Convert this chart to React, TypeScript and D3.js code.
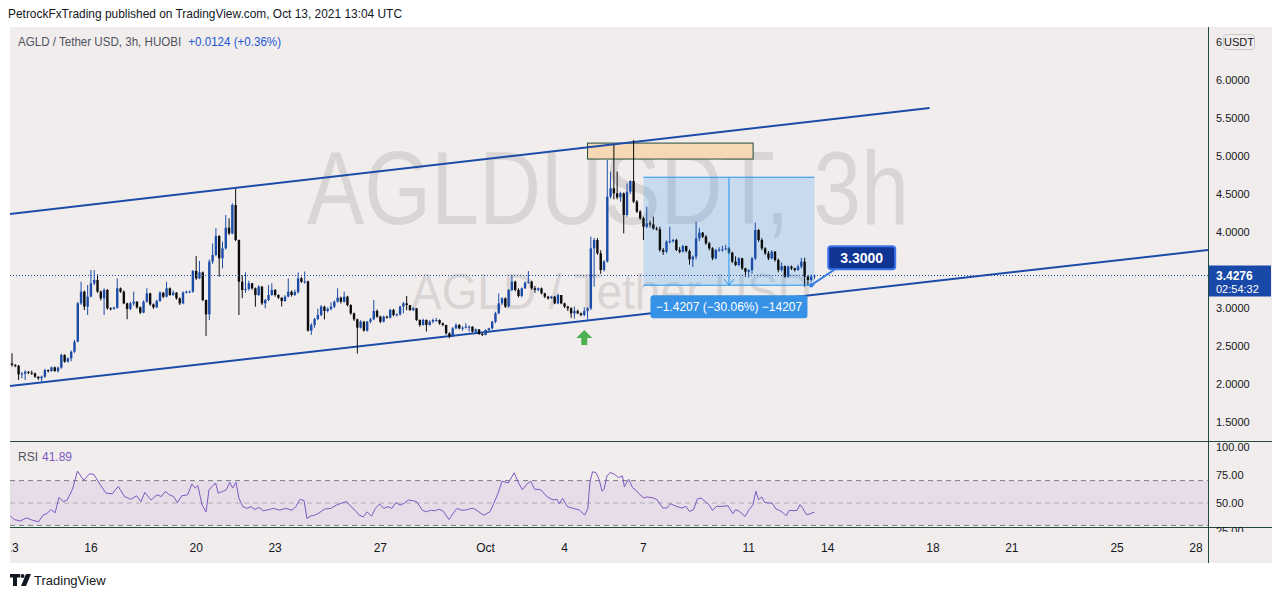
import * as d3 from 'd3';

// ---- data ----
const firstOpen = 2.27;
// [close, high, low] per 3h bar, starting Sep 13 2021 00:00 UTC
const bars = [
  [2.25, 2.404, 2.228], [2.24, 2.262, 2.22], [2.127, 2.25, 2.053], [2.136, 2.16, 2.075], [2.162, 2.18, 2.053],
  [2.149, 2.17, 2.13], [2.14, 2.175, 2.12], [2.096, 2.15, 2.08], [2.075, 2.1, 2.053], [2.096, 2.11, 2.031],
  [2.184, 2.2, 2.08], [2.171, 2.19, 2.15], [2.219, 2.23, 2.16], [2.171, 2.23, 2.16], [2.215, 2.23, 2.15],
  [2.382, 2.4, 2.2], [2.294, 2.39, 2.28], [2.338, 2.35, 2.28], [2.425, 2.44, 2.3], [2.557, 2.58, 2.41],
  [3.061, 3.08, 2.55], [3.215, 3.346, 3.04], [3.018, 3.23, 2.974], [3.149, 3.303, 2.908], [3.325, 3.5, 3.14],
  [3.368, 3.5, 3.3], [3.215, 3.443, 3.2], [3.127, 3.23, 3.1], [3.237, 3.26, 2.908], [2.996, 3.25, 2.98],
  [2.987, 3.01, 2.97], [3.004, 3.02, 2.98], [3.259, 3.39, 2.99], [3.215, 3.27, 3.2], [3.061, 3.23, 3.05],
  [2.987, 3.07, 2.851], [3.061, 3.08, 2.97], [3.083, 3.215, 3.03], [3.009, 3.09, 2.99], [2.939, 3.02, 2.92],
  [3.083, 3.1, 2.93], [3.193, 3.26, 3.07], [3.048, 3.2, 3.03], [3.009, 3.06, 2.99], [3.092, 3.11, 3.0],
  [3.202, 3.22, 3.08], [3.149, 3.21, 3.13], [3.259, 3.346, 3.14], [3.171, 3.27, 3.16], [3.202, 3.23, 3.16],
  [3.127, 3.21, 3.11], [3.061, 3.14, 3.04], [3.202, 3.22, 3.05], [3.215, 3.23, 3.19], [3.215, 3.23, 3.2],
  [3.487, 3.5, 3.2], [3.39, 3.684, 3.37], [3.469, 3.62, 3.38], [3.105, 3.48, 3.09], [2.917, 3.11, 2.632],
  [3.61, 3.64, 2.842], [3.697, 3.85, 3.58], [3.947, 4.05, 3.68], [3.654, 3.96, 3.412], [3.785, 3.873, 3.522],
  [4.057, 4.224, 3.77], [3.982, 4.18, 3.96], [4.355, 4.377, 3.97], [3.895, 4.566, 3.88], [3.346, 3.9, 2.908],
  [3.237, 3.43, 3.13], [3.25, 3.469, 3.2], [3.325, 3.36, 3.23], [3.259, 3.33, 3.24], [3.171, 3.27, 3.018],
  [3.281, 3.3, 3.16], [3.061, 3.29, 3.04], [3.105, 3.12, 2.996], [3.171, 3.3, 3.09], [3.237, 3.325, 3.16],
  [3.171, 3.25, 3.15], [3.136, 3.18, 3.12], [3.092, 3.14, 3.02], [3.149, 3.17, 3.08], [3.215, 3.39, 3.14],
  [3.171, 3.23, 3.15], [3.209, 3.24, 3.16], [3.39, 3.469, 3.19], [3.346, 3.41, 3.33], [3.35, 3.48, 3.32],
  [2.702, 3.36, 2.69], [2.776, 2.8, 2.645], [2.855, 2.87, 2.74], [2.908, 2.99, 2.84], [3.018, 3.04, 2.89],
  [2.961, 3.03, 2.85], [2.987, 3.01, 2.94], [3.018, 3.075, 2.97], [3.083, 3.1, 3.0], [3.136, 3.259, 3.07],
  [3.083, 3.15, 3.06], [3.149, 3.215, 3.07], [3.039, 3.16, 3.02], [2.93, 3.05, 2.91], [2.851, 2.94, 2.83],
  [2.741, 2.86, 2.4], [2.82, 2.84, 2.73], [2.702, 2.83, 2.69], [2.82, 2.83, 2.69], [2.851, 2.87, 2.8],
  [2.961, 3.105, 2.84], [2.886, 2.98, 2.87], [2.82, 2.9, 2.8], [2.886, 2.9, 2.81], [2.874, 2.9, 2.86],
  [2.974, 2.99, 2.86], [2.908, 2.99, 2.89], [2.917, 2.93, 2.89], [3.018, 3.03, 2.9], [3.061, 3.08, 2.93],
  [3.039, 3.158, 2.97], [2.974, 3.04, 2.96], [2.996, 3.01, 2.96], [2.842, 3.0, 2.83], [2.776, 2.85, 2.754],
  [2.842, 2.86, 2.77], [2.776, 2.85, 2.689], [2.82, 2.84, 2.77], [2.842, 2.86, 2.8], [2.842, 2.87, 2.82],
  [2.798, 2.85, 2.78], [2.776, 2.81, 2.76], [2.667, 2.78, 2.65], [2.623, 2.68, 2.601], [2.732, 2.75, 2.62],
  [2.776, 2.8, 2.72], [2.732, 2.79, 2.72], [2.741, 2.76, 2.7], [2.754, 2.8, 2.73], [2.754, 2.77, 2.69],
  [2.689, 2.76, 2.68], [2.719, 2.73, 2.68], [2.658, 2.72, 2.645], [2.645, 2.67, 2.63], [2.711, 2.72, 2.64],
  [2.732, 2.74, 2.7], [2.82, 2.83, 2.72], [2.93, 2.95, 2.8], [3.061, 3.193, 2.92], [3.127, 3.14, 3.04],
  [3.018, 3.14, 3.0], [3.237, 3.25, 3.01], [3.346, 3.434, 3.22], [3.237, 3.36, 3.22], [3.158, 3.26, 3.14],
  [3.259, 3.27, 3.14], [3.333, 3.35, 3.25], [3.346, 3.487, 3.32], [3.259, 3.36, 3.24], [3.237, 3.29, 3.2],
  [3.259, 3.27, 3.22], [3.193, 3.27, 3.18], [3.149, 3.2, 3.13], [3.127, 3.16, 3.11], [3.149, 3.16, 3.12],
  [3.061, 3.16, 3.05], [3.171, 3.19, 3.05], [3.061, 3.16, 3.05], [3.018, 3.07, 3.0], [2.996, 3.03, 2.96],
  [2.93, 3.01, 2.87], [2.96, 3.02, 2.86], [2.93, 2.98, 2.92], [2.908, 2.94, 2.89], [2.96, 3.01, 2.89],
  [2.996, 3.01, 2.85], [3.785, 3.94, 2.974], [3.895, 3.92, 3.281], [3.719, 3.92, 3.7], [3.5, 3.76, 3.45],
  [3.61, 3.63, 3.48], [4.465, 4.947, 3.6], [4.575, 4.794, 4.44], [4.509, 5.145, 4.43], [4.456, 4.794, 4.43],
  [4.509, 4.53, 4.4], [4.224, 4.52, 3.982], [4.531, 4.64, 4.2], [4.671, 4.68, 4.5], [4.399, 5.211, 4.38],
  [4.268, 4.42, 4.25], [4.18, 4.29, 4.16], [4.07, 4.2, 3.895], [4.114, 4.333, 4.05], [4.1, 4.15, 4.06],
  [4.048, 4.202, 4.03], [4.035, 4.07, 4.02], [3.763, 4.07, 3.74], [3.741, 3.79, 3.7], [3.873, 3.89, 3.72],
  [3.88, 4.07, 3.85], [3.895, 3.91, 3.86], [3.763, 3.91, 3.75], [3.741, 3.8, 3.72], [3.816, 3.83, 3.73],
  [3.75, 3.82, 3.73], [3.64, 3.77, 3.57], [3.675, 3.69, 3.54], [3.917, 4.136, 3.64], [3.991, 4.05, 3.88],
  [3.939, 4.0, 3.92], [3.851, 3.96, 3.83], [3.785, 3.87, 3.76], [3.654, 3.8, 3.63], [3.763, 3.78, 3.64],
  [3.77, 3.8, 3.74], [3.772, 3.82, 3.74], [3.785, 3.83, 3.76], [3.728, 3.8, 3.71], [3.61, 3.74, 3.59],
  [3.566, 3.68, 3.55], [3.654, 3.67, 3.55], [3.522, 3.66, 3.5], [3.478, 3.53, 3.41], [3.5, 3.51, 3.4],
  [3.654, 3.67, 3.45], [4.026, 4.123, 3.63], [3.895, 4.04, 3.87], [3.785, 3.92, 3.76], [3.719, 3.8, 3.7],
  [3.654, 3.75, 3.63], [3.741, 3.76, 3.64], [3.632, 3.75, 3.61], [3.5, 3.65, 3.47], [3.55, 3.6, 3.48],
  [3.412, 3.56, 3.4], [3.544, 3.56, 3.4], [3.522, 3.56, 3.5], [3.5, 3.53, 3.48], [3.544, 3.57, 3.49],
  [3.61, 3.66, 3.52], [3.412, 3.66, 3.281], [3.368, 3.43, 3.3], [3.415, 3.44, 3.34], [3.4276, 3.44, 3.38],
];

// [bar index, RSI value]
const rsiPoints = [
  [-0.5, 38.5], [0.7, 35.2], [2.5, 33.9], [4.4, 36.7], [6.3, 34.5], [8.1, 33.3], [9.4, 39.1], [10.6, 40.6],
  [11.9, 44.2], [13.1, 41.2], [14.3, 55.1], [15.6, 51.2], [16.8, 52.7], [18.4, 62.4], [19.9, 78.5], [21.8, 70.3],
  [23.6, 76.1], [24.9, 75.5], [26.8, 66.4], [28.6, 58.8], [30.5, 58.2], [32.3, 64.8], [34.2, 55.8], [36.1, 53.3],
  [37.9, 56.4], [39.2, 51.2], [40.4, 59.4], [42.3, 52.7], [44.1, 57.3], [45.4, 55.8], [46.6, 60.3], [47.9, 57.3],
  [49.1, 55.8], [50.3, 50.3], [51.6, 56.4], [53.4, 57.3], [54.7, 67.0], [55.7, 63.3], [56.5, 65.5], [57.8, 48.2],
  [59.0, 42.1], [59.9, 61.8], [60.9, 64.8], [61.9, 67.9], [62.7, 58.8], [64.0, 60.3], [65.2, 61.8], [66.2, 68.5],
  [67.1, 63.3], [68.1, 68.5], [69.0, 54.2], [70.2, 46.7], [71.4, 45.2], [72.7, 46.7], [73.9, 44.2], [75.1, 46.1],
  [76.4, 43.1], [78.3, 44.2], [79.5, 45.2], [81.4, 43.6], [83.2, 45.2], [85.1, 43.6], [86.3, 46.7], [87.6, 53.3],
  [88.8, 52.1], [89.7, 36.1], [90.7, 38.2], [91.9, 39.1], [93.1, 40.6], [95.0, 44.5], [96.9, 45.2], [98.7, 48.2],
  [100.6, 50.3], [101.8, 51.2], [103.1, 46.7], [104.3, 43.6], [105.6, 39.1], [106.8, 37.6], [108.0, 42.1], [109.3, 38.2],
  [110.5, 45.2], [111.8, 49.1], [113.0, 45.2], [114.3, 46.7], [115.5, 45.2], [116.7, 50.3], [118.0, 48.2], [119.2, 49.7],
  [120.5, 52.7], [121.7, 52.1], [123.0, 51.2], [124.8, 43.6], [126.0, 42.1], [127.3, 43.6], [128.5, 43.0], [129.8, 44.5],
  [131.0, 43.0], [132.9, 35.2], [134.1, 40.6], [135.3, 45.2], [136.6, 43.6], [137.8, 43.6], [139.1, 44.8], [140.3, 45.2],
  [141.5, 43.0], [143.4, 39.1], [145.3, 42.1], [146.5, 49.7], [147.8, 58.8], [149.0, 69.4], [150.9, 67.9], [152.7, 77.0],
  [154.0, 67.9], [155.2, 61.8], [156.4, 66.4], [157.7, 69.4], [158.9, 62.4], [160.8, 61.8], [162.6, 55.8], [164.5, 52.7],
  [165.7, 53.3], [166.4, 49.1], [167.4, 54.2], [168.9, 46.7], [170.7, 45.2], [172.6, 43.6], [174.1, 39.1], [175.1, 45.2],
  [175.7, 68.1], [176.5, 77.8], [177.5, 77.3], [178.5, 71.2], [179.4, 60.6], [180.0, 62.1], [180.9, 74.2], [181.9, 77.3],
  [183.1, 75.8], [184.4, 72.7], [185.6, 74.2], [186.2, 64.5], [187.5, 71.2], [188.7, 63.6], [190.0, 60.6], [190.9, 57.5],
  [192.1, 54.5], [193.2, 55.4], [195.0, 54.5], [196.1, 53.0], [197.9, 45.5], [199.1, 45.5], [200.2, 49.4], [202.0, 47.0],
  [203.7, 45.5], [204.9, 47.0], [206.0, 42.5], [207.2, 44.0], [208.4, 53.6], [209.5, 54.5], [210.7, 51.5], [211.9, 48.5],
  [213.0, 43.4], [214.2, 47.0], [216.0, 47.0], [217.7, 47.6], [219.2, 40.4], [220.0, 44.0], [221.2, 42.5], [222.9, 38.0],
  [224.1, 44.0], [225.3, 48.5], [226.2, 60.5], [227.0, 53.0], [228.0, 55.4], [228.8, 50.6], [229.9, 50.0], [231.1, 50.0],
  [232.3, 44.6], [233.4, 43.4], [234.6, 41.0], [235.4, 38.6], [236.3, 43.4], [237.5, 43.1], [238.7, 43.4], [239.6, 48.5],
  [240.4, 45.5], [241.6, 39.5], [242.7, 40.4], [244.0, 41.89],
];

const priceTicks = [1.5, 2, 2.5, 3, 3.5, 4, 4.5, 5, 5.5, 6];
const rsiTicks = [100, 75, 50, 25];
const timeTicks = ['2021-09-13', '2021-09-16', '2021-09-20', '2021-09-23', '2021-09-27', '2021-10-01',
  '2021-10-04', '2021-10-07', '2021-10-11', '2021-10-14', '2021-10-18', '2021-10-21', '2021-10-25', '2021-10-28'];

// drawings: [iso time, price]
const upperChannel = [['2021-09-12T22:00Z', 4.237], ['2021-10-17T21:00Z', 5.632]];
const lowerChannel = [['2021-09-12T22:00Z', 1.974], ['2021-10-13T12:00Z', 3.175]];
const supplyZone = { from: '2021-10-04T21:00Z', to: '2021-10-11T04:00Z', top: 5.17, bottom: 4.96 };
const measure = { from: '2021-10-07T00:00Z', to: '2021-10-13T12:00Z', start: 4.7207, end: 3.3 };
const callout = { t: '2021-10-13T09:00Z', price: 3.3, text: '3.3000' };
const upArrow = { t: '2021-10-04T18:00Z', price: 2.71 };
const lastPrice = 3.4276;

// ---- layout ----
const FONT = 'Liberation Sans, Arial, Helvetica, sans-serif';
const L = 10, R = 1208, TOP = 27, PB = 441, RB = 527, AB = 563, RIGHT_EDGE = 1272;
const BG = '#f2eded';
const BLUE = '#1a4ca8';
const SEP = '#1f4a3c';

const start = Date.UTC(2021, 8, 13);
const barTime = (i: number) => new Date(start + i * 3 * 3600e3);

const x = d3.scaleUtc()
  .domain([new Date('2021-09-13T00:00Z'), new Date('2021-10-28T00:00Z')])
  .range([12, 1196]);
const y = d3.scaleLinear().domain([3, 6]).range([308, 80]);
const yRsi = d3.scaleLinear().domain([50, 100]).range([503, 447]);

const candles = bars.map(([c, h, l], i) => {
  const o = i ? bars[i - 1][0] : firstOpen;
  return { t: barTime(i), o, c, h: Math.max(h, o, c), l: Math.min(l, o, c) };
});

const pt = (p: any[]) => [x(new Date(p[0])), y(p[1])];

export default function App() {
  const [u1, u2] = upperChannel.map(pt);
  const [l1, l2] = lowerChannel.map(pt);
  const lowSlope = (l2[1] - l1[1]) / (l2[0] - l1[0]);
  const lowEnd = [R + 5, l1[1] + lowSlope * (R + 5 - l1[0])];

  const rsiLine = d3.line<number[]>()
    .x((d) => x(barTime(d[0])))
    .y((d) => yRsi(d[1]))(rsiPoints);

  const mx1 = x(new Date(measure.from)), mx2 = x(new Date(measure.to));
  const my1 = y(measure.start), my2 = y(measure.end);
  const mMid = (mx1 + mx2) / 2;

  const cx = x(new Date(callout.t)), cy = y(callout.price);
  const ax = x(new Date(upArrow.t)), ay = y(upArrow.price);
  const lastY = y(lastPrice);
  const dayFmt = d3.utcFormat('%-d');

  return (
    <svg width={1280} height={598} style={{ position: 'fixed', left: 0, top: 0, background: '#fff' }}
      fontFamily={FONT}>
      <defs>
        <clipPath id="pricePane"><rect x={L} y={TOP} width={R - L} height={PB - TOP} /></clipPath>
        <clipPath id="rsiPane"><rect x={L} y={PB + 1} width={R - L} height={RB - PB - 1} /></clipPath>
        <clipPath id="rsiAxis"><rect x={R} y={PB + 1} width={RIGHT_EDGE - R} height={RB - PB + 4} /></clipPath>
        <clipPath id="timeAxis"><rect x={L + 1} y={RB} width={R - L - 1} height={AB - RB} /></clipPath>
      </defs>

      <text x={8} y={18} fontSize={13} fill="#131722" textLength={394} lengthAdjust="spacingAndGlyphs">
        PetrockFxTrading published on TradingView.com, Oct 13, 2021 13:04 UTC
      </text>

      <rect x={L} y={TOP} width={RIGHT_EDGE - L} height={AB - TOP} fill={BG} />

      {/* price pane */}
      <g clipPath="url(#pricePane)">
        <text x={608} y={224} fontSize={104} textAnchor="middle" textLength={602} lengthAdjust="spacingAndGlyphs"
          fill="#dad5d5">AGLDUSDT, 3h</text>
        <text x={611} y={309} fontSize={50} textAnchor="middle" textLength={400} lengthAdjust="spacingAndGlyphs"
          fill="#dad5d5">AGLD / Tether USD</text>

        <rect x={x(new Date(supplyZone.from))} y={y(supplyZone.top)}
          width={x(new Date(supplyZone.to)) - x(new Date(supplyZone.from))}
          height={y(supplyZone.bottom) - y(supplyZone.top)} fill="#f6d8b5" stroke={SEP} strokeWidth={1} />

        <rect x={mx1} y={my1} width={mx2 - mx1} height={my2 - my1} fill="rgba(33,150,243,0.2)" />

        <line x1={u1[0]} y1={u1[1]} x2={u2[0]} y2={u2[1]} stroke={BLUE} strokeWidth={2} />
        <line x1={l1[0]} y1={l1[1]} x2={lowEnd[0]} y2={lowEnd[1]} stroke={BLUE} strokeWidth={2} />

        {candles.map((d, i) => {
          const px = x(d.t);
          const col = d.c >= d.o ? BLUE : '#0c0c0c';
          const yt = y(Math.max(d.o, d.c)), yb = y(Math.min(d.o, d.c));
          return (
            <g key={i}>
              <line x1={px} x2={px} y1={y(d.h)} y2={y(d.l)} stroke={col} strokeWidth={1} />
              <rect x={px - 1.2} y={yt} width={2.4} height={Math.max(1, yb - yt)} fill={col} />
            </g>
          );
        })}

        <line x1={L} x2={R} y1={lastY} y2={lastY} stroke={BLUE} strokeWidth={1} strokeDasharray="1,2" />

        {/* price range tool */}
        <line x1={mx1} x2={mx2} y1={my1} y2={my1} stroke="#2196f3" strokeWidth={1} />
        <line x1={mx1} x2={mx2} y1={my2} y2={my2} stroke="#2196f3" strokeWidth={1} />
        <line x1={mMid} x2={mMid} y1={my1} y2={my2} stroke="#2196f3" strokeWidth={1} />
        <path d={`M${mMid - 5},${my2 - 6} L${mMid},${my2} L${mMid + 5},${my2 - 6}`} fill="none" stroke="#2196f3" strokeWidth={1} />
        <rect x={mMid - 78.5} y={my2 + 10} width={157} height={23} rx={3} fill="#3592e6" />
        <text x={mMid} y={my2 + 26} fontSize={12} fill="#fff" textAnchor="middle">−1.4207 (−30.06%) −14207</text>

        {/* callout */}
        <line x1={cx} y1={cy} x2={cx + 27} y2={cy - 18} stroke="#3d7fe0" strokeWidth={2} />
        <circle cx={cx} cy={cy} r={2.2} fill="#3d7fe0" />
        <rect x={cx + 17} y={cy - 39} width={67} height={23} rx={3} fill="#0f3494" stroke="#3f74ea" strokeWidth={2} />
        <text x={cx + 50.5} y={cy - 22.5} fontSize={14} fontWeight="bold" fill="#fff" textAnchor="middle">{callout.text}</text>

        {/* up arrow */}
        <path d={`M${ax},${ay} L${ax + 8},${ay + 8} L${ax + 3},${ay + 8} L${ax + 3},${ay + 15} L${ax - 3},${ay + 15} L${ax - 3},${ay + 8} L${ax - 8},${ay + 8} Z`}
          fill="#4caf50" />
      </g>

      <text x={18} y={46} fontSize={13} fill="#50535e" textLength={263} lengthAdjust="spacingAndGlyphs">
        AGLD / Tether USD, 3h, HUOBI<tspan dx={8} fill="#2157d1">+0.0124 (+0.36%)</tspan>
      </text>

      {/* RSI pane */}
      <g clipPath="url(#rsiPane)">
        <rect x={L} y={yRsi(70)} width={R - L} height={yRsi(30) - yRsi(70)} fill="rgba(126,87,194,0.1)" />
        <line x1={L} x2={R} y1={yRsi(70)} y2={yRsi(70)} stroke="#787b86" strokeDasharray="5,4" />
        <line x1={L} x2={R} y1={yRsi(50)} y2={yRsi(50)} stroke="rgba(120,123,134,0.5)" strokeDasharray="5,4" />
        <line x1={L} x2={R} y1={yRsi(30)} y2={yRsi(30)} stroke="#787b86" strokeDasharray="5,4" />
        <path d={rsiLine || ''} fill="none" stroke="#7e57c2" strokeWidth={1} />
      </g>
      <text x={18} y={461} fontSize={12} fill="#50535e">RSI</text>
      <text x={42} y={461} fontSize={12} fill="#7e57c2">41.89</text>

      {/* separators */}
      <line x1={L} x2={RIGHT_EDGE} y1={PB + 0.5} y2={PB + 0.5} stroke={SEP} />
      <line x1={L} x2={RIGHT_EDGE} y1={RB + 0.5} y2={RB + 0.5} stroke={SEP} />
      <line x1={R + 0.5} x2={R + 0.5} y1={TOP} y2={AB} stroke={SEP} />

      {/* price axis */}
      {priceTicks.map((p) => (
        <text key={p} x={1216} y={y(p) + 4} fontSize={11} fill="#131722">{d3.format('.4f')(p)}</text>
      ))}
      <text x={1216} y={46} fontSize={11} fill="#131722">6</text>
      <rect x={1223.5} y={34.5} width={31} height={15} rx={3} fill="none" stroke="#c9c9cc" />
      <text x={1239} y={46} fontSize={11} fill="#131722" textAnchor="middle">USDT</text>

      <rect x={R + 1} y={lastY - 10} width={62} height={31} fill="#1848a8" />
      <text x={1216} y={lastY + 4} fontSize={12} fontWeight="bold" fill="#fff">{d3.format('.4f')(lastPrice)}</text>
      <text x={1216} y={lastY + 17} fontSize={11} fill="#fff">02:54:32</text>

      {/* RSI axis */}
      <g clipPath="url(#rsiAxis)">
        {rsiTicks.map((v) => (
          <text key={v} x={1216} y={yRsi(v) + 4} fontSize={11} fill="#131722">{d3.format('.2f')(v)}</text>
        ))}
      </g>

      {/* time axis */}
      <g clipPath="url(#timeAxis)">
        {timeTicks.map((s) => {
          const d = new Date(s + 'T00:00Z');
          const label = d.getUTCDate() === 1 ? d3.utcFormat('%b')(d) : dayFmt(d);
          return <text key={s} x={x(d)} y={552} fontSize={12} fill="#131722" textAnchor="middle">{label}</text>;
        })}
      </g>

      {/* TradingView logo */}
      <g fill="#131722">
        <path d="M10,574 h10 v3.5 h-3 v8.5 h-4 v-8.5 h-3 Z" />
        <circle cx={22.5} cy={576} r={2} />
        <path d="M26,574 h5 l-5,12 h-5 Z" />
      </g>
      <text x={34} y={585} fontSize={13} fill="#131722">TradingView</text>
    </svg>
  );
}
